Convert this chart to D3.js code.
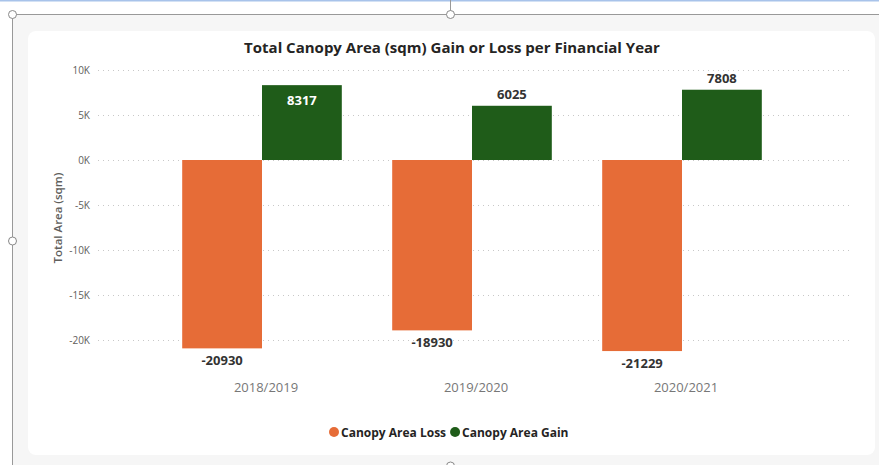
<!DOCTYPE html>
<html>
<head>
<meta charset="utf-8">
<script src="https://cdn.jsdelivr.net/npm/d3@7"></script>
<style>
  html, body { margin: 0; padding: 0; background: #fff; }
  svg { display: block; font-family: "Segoe UI", "Open Sans", sans-serif; }
</style>
</head>
<body>
<script>
// Datos
const years = ["2018/2019", "2019/2020", "2020/2021"];
const lossValues = [-20930, -18930, -21229];
const gainValues = [8317, 6025, 7808];
const seriesNames = ["Canopy Area Loss", "Canopy Area Gain"];
const yTicks = [10000, 5000, 0, -5000, -10000, -15000, -20000];

const WIDTH = 879, HEIGHT = 465;
const colorLoss = "#E66C37", colorGain = "#1F5C19";

let svg = d3.select("body").append("svg")
    .attr("width", WIDTH)
    .attr("height", HEIGHT);

// marco del editor (fondo gris, tarjeta blanca)
svg.append("rect").attr("x", 12).attr("y", 14).attr("width", WIDTH - 12).attr("height", HEIGHT - 14)
    .attr("fill", "#f6f6f6");
svg.append("rect").attr("x", 28).attr("y", 31).attr("width", 847).attr("height", 424)
    .attr("rx", 8).attr("fill", "#ffffff");
svg.append("line").attr("x1", 0).attr("x2", WIDTH).attr("y1", 0.5).attr("y2", 0.5)
    .attr("stroke", "#a8c3ea").attr("stroke-width", 2);
svg.append("line").attr("x1", 12).attr("x2", WIDTH).attr("y1", 14.5).attr("y2", 14.5)
    .attr("stroke", "#999");
svg.append("line").attr("x1", 12.5).attr("x2", 12.5).attr("y1", 14).attr("y2", HEIGHT)
    .attr("stroke", "#999");
svg.append("line").attr("x1", 450.5).attr("x2", 450.5).attr("y1", 0).attr("y2", 14)
    .attr("stroke", "#999");
[[12.5, 14.5], [450.5, 14.5], [12.5, 241], [450.5, 466]].forEach(p => {
    svg.append("circle").attr("cx", p[0]).attr("cy", p[1]).attr("r", 4)
        .attr("fill", "#fff").attr("stroke", "#888");
});

// escalas
let y = d3.scaleLinear().domain([-20000, 10000]).range([340, 70]);
let x = d3.scaleBand().domain(years).range([157, 787]).paddingInner(0.24).paddingOuter(0.12);
let xSub = d3.scaleBand().domain(seriesNames).range([0, x.bandwidth()]);

// título
svg.append("text")
    .attr("x", 452).attr("y", 53)
    .attr("text-anchor", "middle")
    .attr("font-size", 15).attr("font-weight", 700)
    .attr("fill", "#252423")
    .text("Total Canopy Area (sqm) Gain or Loss per Financial Year");

// grilla y eje Y
let grid = svg.append("g");
grid.selectAll("line").data(yTicks).enter().append("line")
    .attr("x1", 98).attr("x2", 852)
    .attr("y1", d => y(d) + 0.5).attr("y2", d => y(d) + 0.5)
    .attr("stroke", "#c8c8c8").attr("stroke-dasharray", "1,4");

let yAxis = svg.append("g")
    .attr("transform", "translate(90,0)")
    .call(d3.axisLeft(y).tickValues(yTicks).tickSize(0).tickPadding(0)
        .tickFormat(d => (d / 1000) + "K"));
yAxis.select(".domain").remove();
yAxis.selectAll("text").attr("font-size", 10).attr("fill", "#605E5C")
    .attr("font-family", "\"Segoe UI\", \"Open Sans\", sans-serif");

svg.append("text")
    .attr("transform", "translate(62,218) rotate(-90)")
    .attr("text-anchor", "middle")
    .attr("font-size", 11.5).attr("font-weight", 600)
    .attr("fill", "#605E5C")
    .text("Total Area (sqm)");

// eje X
let xAxis = svg.append("g")
    .attr("transform", "translate(4,380)")
    .call(d3.axisBottom(x).tickSize(0).tickPadding(0));
xAxis.select(".domain").remove();
xAxis.selectAll("text").attr("font-size", 13).attr("fill", "#777")
    .attr("dy", "0.9em")
    .attr("font-family", "\"Segoe UI\", \"Open Sans\", sans-serif");

// barras
let groups = svg.selectAll(".group").data(years).enter().append("g")
    .attr("class", "group")
    .attr("transform", d => "translate(" + x(d) + ",0)");

groups.append("rect")
    .attr("x", xSub("Canopy Area Loss"))
    .attr("width", xSub.bandwidth())
    .attr("y", y(0))
    .attr("height", (d, i) => y(lossValues[i]) - y(0))
    .attr("fill", colorLoss);

groups.append("rect")
    .attr("x", xSub("Canopy Area Gain"))
    .attr("width", xSub.bandwidth())
    .attr("y", (d, i) => y(gainValues[i]))
    .attr("height", (d, i) => y(0) - y(gainValues[i]))
    .attr("fill", colorGain);

// etiquetas de datos (dentro de la barra si no cabe arriba)
let inside = v => y(v) < 87;

groups.append("text")
    .attr("x", xSub("Canopy Area Loss") + xSub.bandwidth() / 2)
    .attr("y", (d, i) => y(lossValues[i]) + 17)
    .attr("text-anchor", "middle")
    .attr("font-size", 13).attr("font-weight", 700)
    .attr("fill", "#333")
    .text((d, i) => lossValues[i]);

groups.append("text")
    .attr("x", xSub("Canopy Area Gain") + xSub.bandwidth() / 2)
    .attr("y", (d, i) => inside(gainValues[i]) ? y(gainValues[i]) + 20 : y(gainValues[i]) - 7)
    .attr("text-anchor", "middle")
    .attr("font-size", 13).attr("font-weight", 700)
    .attr("fill", (d, i) => inside(gainValues[i]) ? "#fff" : "#333")
    .text((d, i) => gainValues[i]);

// leyenda
let legend = svg.append("g").attr("transform", "translate(334,432)");
let lx = 0;
seriesNames.forEach((name, i) => {
    legend.append("circle").attr("cx", lx).attr("cy", 0).attr("r", 5)
        .attr("fill", i === 0 ? colorLoss : colorGain);
    let t = legend.append("text")
        .attr("x", lx + 7).attr("y", 4.5)
        .attr("font-size", 12).attr("font-weight", 700)
        .attr("fill", "#252423")
        .text(name);
    lx += 7 + t.node().getComputedTextLength() + 9;
});
</script>
</body>
</html>
